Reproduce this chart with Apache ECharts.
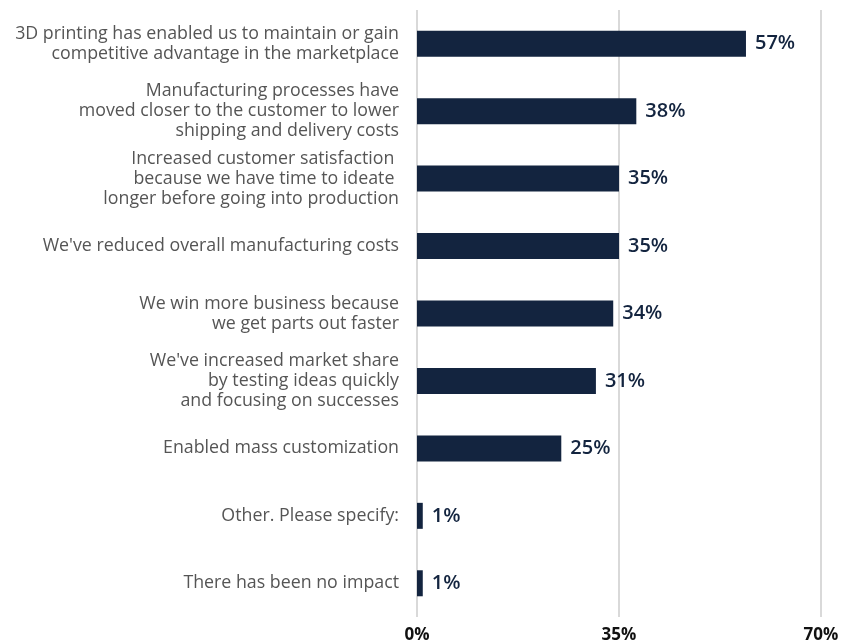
<!DOCTYPE html>
<html>
<head>
<meta charset="utf-8">
<script src="https://cdn.jsdelivr.net/npm/echarts@6/dist/echarts.min.js"></script>
<style>
  html, body { margin: 0; padding: 0; background: #ffffff; }
  #chart { width: 842px; height: 644px; }
</style>
</head>
<body>
<div id="chart"></div>
<script>
// Impact statements, top to bottom
const categories = [
  "3D printing has enabled us to maintain or gain\ncompetitive advantage in the marketplace",
  "Manufacturing processes have\nmoved closer to the customer to lower\nshipping and delivery costs",
  "Increased customer satisfaction \nbecause we have time to ideate \nlonger before going into production",
  "We've reduced overall manufacturing costs",
  "We win more business because\nwe get parts out faster",
  "We've increased market share\nby testing ideas quickly\nand focusing on successes",
  "Enabled mass customization",
  "Other. Please specify:",
  "There has been no impact"
];
// Share of respondents (%)
const values = [57, 38, 35, 35, 34, 31, 25, 1, 1];
// Axis ticks (%)
const axisMin = 0;
const axisMax = 70;
const axisStep = 35;

const chart = echarts.init(document.getElementById('chart'));
chart.setOption({
  animation: false,
  grid: { left: 417, right: 21, top: 10, bottom: 27, containLabel: false },
  xAxis: {
    type: 'value',
    min: axisMin,
    max: axisMax,
    interval: axisStep,
    axisLine: { show: false },
    axisTick: { show: false },
    splitLine: { show: true, lineStyle: { color: '#d9d9d9', width: 2 } },
    axisLabel: {
      formatter: '{value}%',
      color: '#111111',
      fontFamily: '"Open Sans", sans-serif',
      fontWeight: 'bold',
      fontSize: 17,
      margin: 10
    }
  },
  yAxis: {
    type: 'category',
    inverse: true,
    data: categories,
    axisLine: { show: false },
    axisTick: { show: false },
    axisLabel: {
      color: '#555555',
      fontFamily: '"Open Sans", sans-serif',
      fontSize: 17.8,
      lineHeight: 20,
      margin: 18,
      align: 'right'
    }
  },
  series: [{
    type: 'bar',
    data: values,
    barWidth: 26,
    itemStyle: { color: '#13243f' },
    label: {
      show: true,
      position: 'right',
      distance: 9,
      formatter: '{c}%',
      color: '#13243f',
      fontFamily: '"Open Sans", sans-serif',
      fontWeight: 600,
      fontSize: 20
    }
  }]
});
</script>
</body>
</html>
